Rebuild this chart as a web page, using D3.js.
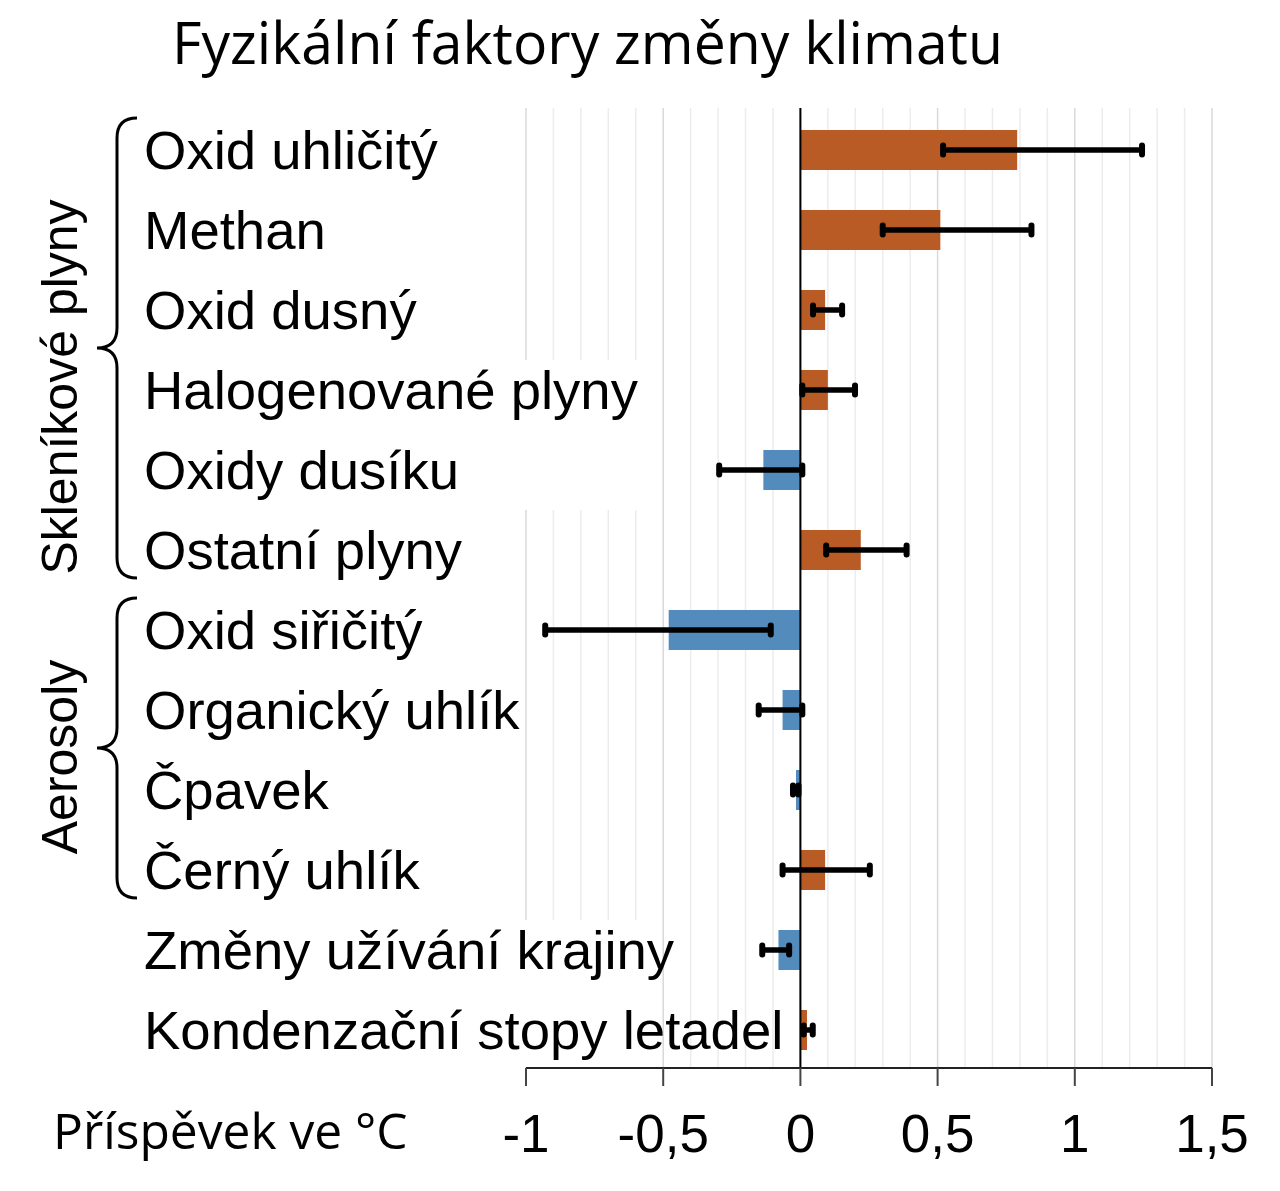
<!DOCTYPE html>
<html>
<head>
<meta charset="utf-8">
<script src="https://cdn.jsdelivr.net/npm/d3@7"></script>
<style>
  body { margin: 0; background: #fff; }
  svg { display: block; }
</style>
</head>
<body>
<script>
// ---------- DATA ----------
var factors = ["Oxid uhličitý", "Methan", "Oxid dusný", "Halogenované plyny", "Oxidy dusíku",
  "Ostatní plyny", "Oxid siřičitý", "Organický uhlík", "Čpavek", "Černý uhlík",
  "Změny užívání krajiny", "Kondenzační stopy letadel"];
var values = [0.79, 0.51, 0.09, 0.10, -0.135, 0.22, -0.48, -0.065, -0.016, 0.09, -0.08, 0.024];
var errLow = [0.52, 0.30, 0.046, 0.007, -0.296, 0.094, -0.93, -0.152, -0.027, -0.065, -0.139, 0.012];
var errHigh = [1.245, 0.842, 0.152, 0.199, 0.007, 0.387, -0.108, 0.007, -0.007, 0.253, -0.041, 0.045];
var groups = [["Skleníkové plyny", 0, 5], ["Aerosoly", 6, 9]];
var xTicks = [-1, -0.5, 0, 0.5, 1, 1.5];
var title = "Fyzikální faktory změny klimatu";
var axisTitle = "Příspěvek ve °C";

// ---------- DIMENSIONS ----------
var w = 1280, h = 1191;
var plotTop = 108, plotBottom = 1068;
var orange = "#b95b24", blue = "#548bbd";

var svg = d3.select("body").append("svg")
  .attr("width", w)
  .attr("height", h);

var x = d3.scaleLinear().domain([-1, 1.5]).range([526, 1212]);
var y = d3.scaleBand().domain(factors).range([110, 1070])
  .paddingInner(0.5).paddingOuter(0.25);

// ---------- GRID ----------
var minor = d3.range(-10, 16).map(d => d / 10);
svg.append("g").selectAll("line")
  .data(minor)
  .enter().append("line")
  .attr("x1", d => x(d)).attr("x2", d => x(d))
  .attr("y1", plotTop).attr("y2", plotBottom)
  .attr("stroke", d => Math.abs(d * 2 - Math.round(d * 2)) < 1e-6 ? "#d9d9d9" : "#ececec")
  .attr("stroke-width", 1.5);

// white boxes behind the long labels (they hide the grid on the left)
var maskRows = [[3, 4], [10, 11]];
svg.append("g").selectAll("rect")
  .data(maskRows)
  .enter().append("rect")
  .attr("x", 515)
  .attr("y", d => y(factors[d[0]]) - 10)
  .attr("width", x(-0.55) - 515)
  .attr("height", d => Math.min(plotBottom - 1, y(factors[d[1]]) + y.bandwidth() + 20) - (y(factors[d[0]]) - 10))
  .attr("fill", "#fff");

// ---------- BARS ----------
svg.append("g").selectAll("rect")
  .data(values)
  .enter().append("rect")
  .attr("x", d => x(Math.min(0, d)))
  .attr("y", (d, i) => y(factors[i]))
  .attr("width", d => Math.abs(x(d) - x(0)))
  .attr("height", y.bandwidth())
  .attr("fill", d => d >= 0 ? orange : blue);

// zero line
svg.append("line")
  .attr("x1", x(0)).attr("x2", x(0))
  .attr("y1", plotTop).attr("y2", plotBottom)
  .attr("stroke", "#000").attr("stroke-width", 2);

// ---------- ERROR BARS ----------
var eg = svg.append("g");
factors.forEach(function (f, i) {
  var cy = y(f) + y.bandwidth() / 2;
  eg.append("line")
    .attr("x1", x(errLow[i])).attr("x2", x(errHigh[i]))
    .attr("y1", cy).attr("y2", cy)
    .attr("stroke", "#000").attr("stroke-width", 5.5);
  [errLow[i], errHigh[i]].forEach(function (v) {
    eg.append("line")
      .attr("x1", x(v)).attr("x2", x(v))
      .attr("y1", cy - 4.5).attr("y2", cy + 4.5)
      .attr("stroke", "#000").attr("stroke-width", 6)
      .attr("stroke-linecap", "round");
  });
});

// ---------- X AXIS ----------
svg.append("line")
  .attr("x1", x(-1)).attr("x2", x(1.5))
  .attr("y1", plotBottom).attr("y2", plotBottom)
  .attr("stroke", "#222").attr("stroke-width", 2);

svg.append("g").selectAll("line")
  .data(xTicks)
  .enter().append("line")
  .attr("x1", d => x(d)).attr("x2", d => x(d))
  .attr("y1", plotBottom).attr("y2", plotBottom + 18)
  .attr("stroke", "#444").attr("stroke-width", 2);

svg.append("g").selectAll("text")
  .data(xTicks)
  .enter().append("text")
  .attr("x", d => x(d))
  .attr("y", 1152)
  .attr("text-anchor", "middle")
  .attr("font-family", "Liberation Sans, Arial, sans-serif")
  .attr("font-size", "53px")
  .text(d => String(d).replace(".", ","));

svg.append("text")
  .attr("x", 53)
  .attr("y", 1149)
  .attr("font-family", "Open Sans, sans-serif")
  .attr("font-size", "49.7px")
  .text(axisTitle);

// ---------- LABELS ----------
svg.append("g").selectAll("text")
  .data(factors)
  .enter().append("text")
  .attr("x", 144)
  .attr("y", d => y(d) + y.bandwidth() / 2 + 19)
  .attr("font-family", "Liberation Sans, Arial, sans-serif")
  .attr("font-size", "54.5px")
  .text(d => d);

// ---------- GROUP BRACES ----------
var nudge = [39, 9];
groups.forEach(function (gr, k) {
  var top = y(factors[gr[1]]) - 12;
  var bot = y(factors[gr[2]]) + y.bandwidth() + 8;
  var mid = (top + bot) / 2;
  var xs = 117, xe = 137, xt = 97, r = 20;
  var p = d3.path();
  p.moveTo(xe, top);
  p.quadraticCurveTo(xs, top, xs, top + r);
  p.lineTo(xs, mid - r);
  p.quadraticCurveTo(xs, mid, xt, mid);
  p.quadraticCurveTo(xs, mid, xs, mid + r);
  p.lineTo(xs, bot - r);
  p.quadraticCurveTo(xs, bot, xe, bot);
  svg.append("path")
    .attr("d", p.toString())
    .attr("fill", "none")
    .attr("stroke", "#000")
    .attr("stroke-width", 3);

  svg.append("text")
    .attr("transform", "translate(77," + (mid + nudge[k]) + ") rotate(-90)")
    .attr("text-anchor", "middle")
    .attr("font-family", "Liberation Sans, Arial, sans-serif")
    .attr("font-size", "50px")
    .text(gr[0]);
});

// ---------- TITLE ----------
svg.append("text")
  .attr("x", 172)
  .attr("y", 64)
  .attr("font-family", "Open Sans, sans-serif")
  .attr("font-size", "58px")
  .attr("textLength", 831)
  .attr("lengthAdjust", "spacingAndGlyphs")
  .text(title);
</script>
</body>
</html>
